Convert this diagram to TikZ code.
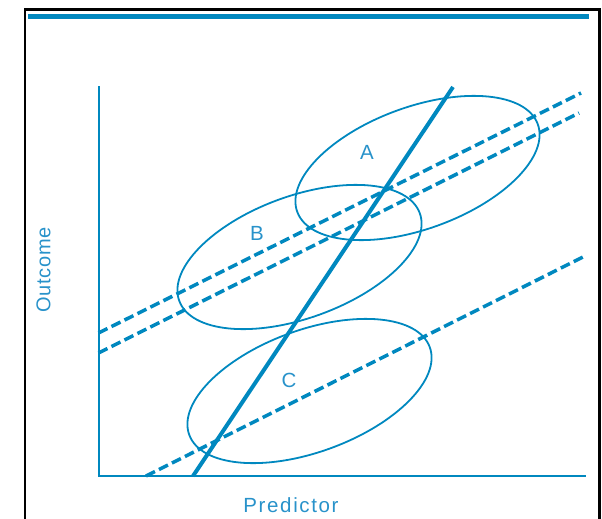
\documentclass[tikz,border=0pt]{standalone}
\usepackage{fontspec}
\usepackage{xcolor}
\usepackage{tikz}
\newfontfamily\widefont[LetterSpace=8]{Liberation Sans}
\newfontfamily\plainfont[LetterSpace=4]{Liberation Sans}
\definecolor{plotblue}{RGB}{0,136,191}
\definecolor{labelblue}{RGB}{40,146,202}

\begin{document}
\begin{tikzpicture}[x=1pt, y=-1pt,
    every node/.style={inner sep=0pt, text=labelblue, font=\widefont\fontsize{20.5}{24}\selectfont},
  axis/.style={draw=plotblue, line width=2pt},
  fitline/.style={draw=plotblue, line width=4pt},
  groupline/.style={draw=plotblue, line width=3.5pt, dash pattern=on 10pt off 4.5pt},
  cloud/.style={draw=plotblue, line width=1.8pt},
  ]
  \useasboundingbox (0,0) rectangle (602,519);

  % frame and top rule
  \draw[line width=2.5pt] (25,519) -- (25,9.5) -- (599.5,9.5) -- (599.5,519);
  \draw[plotblue, line width=4.5pt] (28,16.5) -- (589,16.5);

  \coordinate (o)    at (98.5,476);
  \coordinate (ytop) at (98.5,86);
  \coordinate (xend) at (586,476);

  \coordinate (cA) at (417.5,168);
  \coordinate (cB) at (299.5,257);
  \coordinate (cC) at (309.5,391);

  \coordinate (s0) at (193,476);
  \coordinate (s1) at (453,87);
  \coordinate (a0) at (98.5,333);
  \coordinate (a1) at (581,93);
  \coordinate (b0) at (98.5,353);
  \coordinate (b1) at (579,113);
  \coordinate (c0) at (146,476);
  \coordinate (c1) at (583,257);

  \draw[axis] (ytop) -- (o) -- (xend);

  \draw[cloud, rotate around={20:(cA)}] (cA) ellipse [x radius=128pt, y radius=61pt];
  \draw[cloud, rotate around={20:(cB)}] (cB) ellipse [x radius=128pt, y radius=61pt];
  \draw[cloud, rotate around={20:(cC)}] (cC) ellipse [x radius=128pt, y radius=61pt];

  \draw[groupline] (a0) -- (a1);
  \draw[groupline] (b0) -- (b1);
  \draw[groupline] (c0) -- (c1);
  \draw[fitline] (s0) -- (s1);

  \node (labA) at (367,152)   {A};
  \node (labB) at (257,233)   {B};
  \node (labC) at (289,380.5) {C};

  \node (xlab) at (291,505) {Predictor};
  \node[rotate=90, font=\plainfont\fontsize{20}{24}\selectfont] (ylab) at (43.5,270) {Outcome};

  \end{tikzpicture}
\end{document}
